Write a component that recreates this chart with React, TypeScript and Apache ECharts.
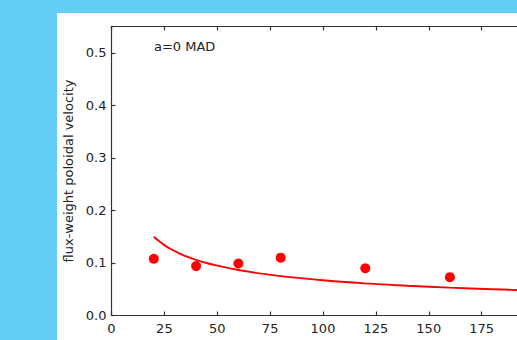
import React, { useEffect, useRef } from "react";
import * as echarts from "echarts";

const pointX = [20, 40, 60, 80, 120, 160];
const pointY = [0.108, 0.094, 0.099, 0.11, 0.09, 0.073];

const curveX = [20, 22, 25, 28, 32, 36, 40, 45, 50, 60, 70, 80, 100, 120, 140, 160, 180, 200];
const curveY = [0.15, 0.143, 0.134, 0.1266, 0.1184, 0.1117, 0.106, 0.0999, 0.0948, 0.0865, 0.0801, 0.0749, 0.067, 0.0612, 0.0566, 0.053, 0.05, 0.0474];

const xTicks = [0, 25, 50, 75, 100, 125, 150, 175];
const yTicks = [0.0, 0.1, 0.2, 0.3, 0.4, 0.5];

const annotation = "a=0 MAD";
const xName = "MAD";
const yName = "flux-weight poloidal velocity";

const FONT = "DejaVu Sans";
const AXIS = "#333";

export default function App() {
  const ref = useRef<HTMLDivElement>(null);
  useEffect(() => {
    if (!ref.current) return;
    const chart = echarts.init(ref.current, null, { renderer: "svg" });
    const axisCommon = {
      axisLine: { show: true, onZero: false, lineStyle: { color: AXIS, width: 1.2 } },
      axisTick: { show: true, inside: true, length: 4, lineStyle: { color: AXIS, width: 1.2 } },
      splitLine: { show: false },
    };
    chart.setOption({
      animation: false,
      backgroundColor: "#ffffff",
      grid: {
        left: 54.5,
        top: 13.5,
        width: 423,
        height: 289,
        containLabel: false,
        outerBoundsMode: "none",
      },
      xAxis: [
        {
          type: "value",
          min: 0,
          max: 200,
          interval: 25,
          position: "bottom",
          ...axisCommon,
          axisLabel: {
            show: true,
            color: "#222",
            fontFamily: FONT,
            fontSize: 13,
            margin: 6,
            formatter: (v: number) => (xTicks.includes(v) ? String(v) : ""),
          },
          name: xName,
          nameLocation: "middle",
          nameGap: 21,
          nameTextStyle: { color: "#222", fontFamily: FONT, fontSize: 13, verticalAlign: "top" },
        },
        {
          type: "value",
          min: 0,
          max: 200,
          interval: 25,
          position: "top",
          ...axisCommon,
          axisLabel: { show: false },
        },
      ],
      yAxis: [
        {
          type: "value",
          min: 0,
          max: 0.55,
          interval: 0.1,
          position: "left",
          ...axisCommon,
          axisLabel: {
            show: true,
            color: "#222",
            fontFamily: FONT,
            fontSize: 13,
            margin: 5,
            formatter: (v: number) => {
              const t = yTicks.find((y) => Math.abs(y - v) < 1e-9);
              return t === undefined ? "" : t.toFixed(1);
            },
          },
          name: yName,
          nameLocation: "middle",
          nameRotate: 90,
          nameGap: 35,
          nameTextStyle: { color: "#222", fontFamily: FONT, fontSize: 13 },
        },
        {
          type: "value",
          min: 0,
          max: 0.55,
          interval: 0.1,
          position: "right",
          ...axisCommon,
          axisLabel: { show: false },
        },
      ],
      graphic: [
        {
          type: "text",
          left: 97,
          top: 27,
          style: { text: annotation, fill: "#222", font: `13px "${FONT}"` },
        },
      ],
      series: [
        {
          type: "line",
          data: curveX.map((x, i) => [x, curveY[i]]),
          smooth: 0.3,
          showSymbol: false,
          lineStyle: { color: "#ff0000", width: 1.9 },
          itemStyle: { color: "#ff0000" },
          z: 2,
        },
        {
          type: "scatter",
          data: pointX.map((x, i) => [x, pointY[i]]),
          symbol: "circle",
          symbolSize: 10,
          itemStyle: { color: "#ff0000", opacity: 1 },
          z: 3,
        },
      ],
    });
    return () => chart.dispose();
  }, []);

  return (
    <div
      style={{
        position: "fixed",
        left: 0,
        top: 0,
        width: 517,
        height: 340,
        overflow: "hidden",
        background: "#64cdf5",
      }}
    >
      <div
        ref={ref}
        style={{ position: "absolute", left: 57, top: 13, width: 520, height: 360, background: "#fff" }}
      />
    </div>
  );
}
